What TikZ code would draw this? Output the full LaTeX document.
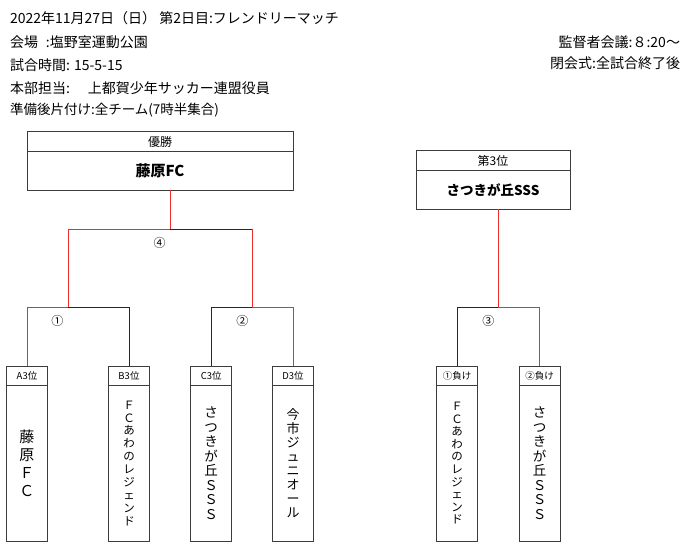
\documentclass[tikz,border=0pt]{standalone}
\usepackage{fontspec}
\setmainfont{Noto Sans CJK JP}
\usetikzlibrary{positioning}
\definecolor{wonred}{RGB}{240,45,45}
\definecolor{boxgray}{RGB}{60,60,60}

\begin{document}
\begin{tikzpicture}[x=1pt,y=-1pt,
	every node/.style={inner sep=0pt,outer sep=0pt},
	box/.style={draw=boxgray,line width=1pt},
	tag/.style={box,minimum width=41pt,minimum height=19.5pt,font=\fontsize{9.5}{10}\selectfont},
	teambox/.style={box,minimum width=41pt,minimum height=155.5pt,align=center},
	headbox/.style={box,minimum height=20pt,font=\fontsize{12}{12}\selectfont},
	resultbox/.style={box,minimum height=38.5pt,font=\fontsize{14}{14}\selectfont\bfseries},
	info/.style={font=\fontsize{14}{14}\selectfont},
	hit/.style={draw=wonred,line width=1pt},
	miss/.style={draw=black!85,line width=1pt},
	game/.style={font=\fontsize{12}{12}\selectfont}]
	\useasboundingbox (0,0) rectangle (688,552);

	% header
	\node [info,anchor=west] (date) at (10,18) {2022年11月27日（日） 第2日目:フレンドリーマッチ};
	\node [info,anchor=west] (place) at (10,42.5) {会場\hspace{8pt}:塩野室運動公園};
	\node [info,anchor=west] (time) at (10,65) {試合時間: 15-5-15};
	\node [info,anchor=west] (staff) at (10,88) {本部担当:\hspace{18pt}上都賀少年サッカー連盟役員};
	\node [info,anchor=west,font=\fontsize{13.5}{13.5}\selectfont] (prep) at (10,110) {準備後片付け:全チーム(7時半集合)};
	\node [info,anchor=east] (meeting) at (680,42.5) {監督者会議:８:20～};
	\node [info,anchor=east] (closing) at (680,63) {閉会式:全試合終了後};

	% results
	\node [headbox,minimum width=266pt] (champ) at (160,141.7) {優勝};
	\node [resultbox,minimum width=266pt,below=0pt of champ,font=\fontsize{15}{15}\selectfont\bfseries] (champname) {藤原FC};
	\node [headbox,minimum width=154pt] (third) at (493,160.7) {第3位};
	\node [resultbox,minimum width=154pt,below=0pt of third,font=\fontsize{13.5}{13.5}\selectfont\bfseries] (thirdname) {さつきが丘SSS};

	% teams
	\node [tag] (A) at (27,375.75) {A3位};
	\node [teambox,below=0pt of A,font=\fontsize{15}{17.7}\selectfont] (Aname) {藤\\原\\Ｆ\\Ｃ};
	\node [tag] (B) at (129,375.75) {B3位};
	\node [teambox,below=0pt of B,font=\fontsize{11.5}{12.9}\selectfont] (Bname) {Ｆ\\Ｃ\\あ\\わ\\の\\レ\\ジ\\ェ\\ン\\ド};
	\node [tag] (C) at (211.2,375.75) {C3位};
	\node [teambox,below=0pt of C,font=\fontsize{13.5}{14.5}\selectfont] (Cname) {さ\\つ\\き\\が\\丘\\Ｓ\\Ｓ\\Ｓ};
	\node [tag] (D) at (293,375.75) {D3位};
	\node [teambox,below=0pt of D,font=\fontsize{13}{13.9}\selectfont] (Dname) {今\\市\\ジ\\ュ\\ニ\\オ\\ー\\ル};
	\node [tag] (L1) at (457,375.75) {①負け};
	\node [teambox,below=0pt of L1,font=\fontsize{11.5}{12.6}\selectfont] (L1name) {Ｆ\\Ｃ\\あ\\わ\\の\\レ\\ジ\\ェ\\ン\\ド};
	\node [tag] (L2) at (539.5,375.75) {②負け};
	\node [teambox,below=0pt of L2,font=\fontsize{13.5}{14.5}\selectfont] (L2name) {さ\\つ\\き\\が\\丘\\Ｓ\\Ｓ\\Ｓ};

	% bracket
	\coordinate (f) at (170,229);
	\coordinate (fL) at (68,229);
	\coordinate (fR) at (252,229);
	\coordinate (s1) at (68,307);
	\coordinate (s2) at (252,307);
	\coordinate (t) at (498.3,307);

	\draw [hit] (champname.south -| f) -- (f) -- (fL) -- (s1) -| (A.north);
	\draw [miss] (f) -- (fR);
	\draw [hit] (fR) -- (s2) -| (D.north);
	\draw [miss] (s1) -| (B.north);
	\draw [miss] (s2) -| (C.north);
	\draw [hit] (thirdname.south -| t) -- (t) -| (L2.north);
	\draw [miss] (t) -| (L1.north);

	\node [game] (g4) at (159.5,242.5) {④};
	\node [game] (g1) at (57.3,320.8) {①};
	\node [game] (g2) at (242.3,320.8) {②};
	\node [game] (g3) at (488.3,320.7) {③};
\end{tikzpicture}
\end{document}
